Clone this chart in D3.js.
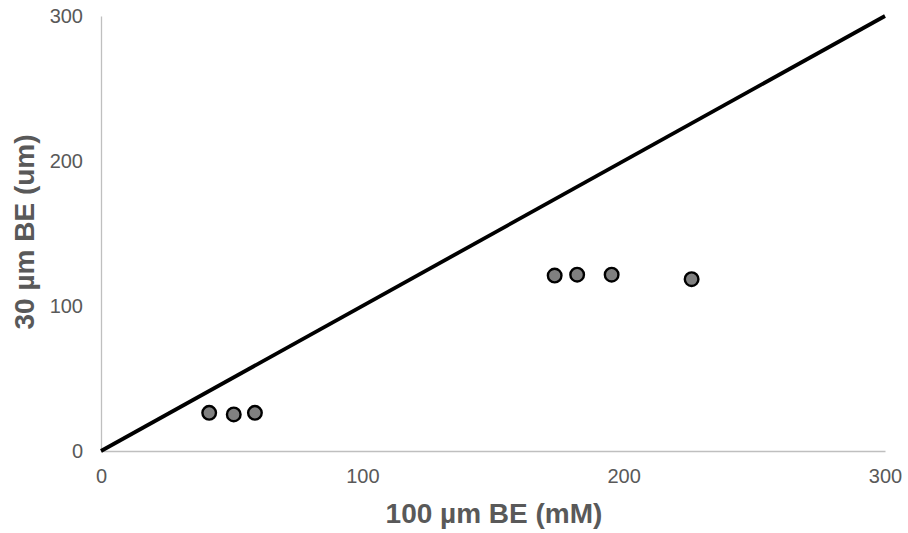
<!DOCTYPE html>
<html>
<head>
<meta charset="utf-8">
<script src="https://cdn.jsdelivr.net/npm/d3@7"></script>
<style>
  body { margin: 0; background: #fff; }
  text { font-family: "Liberation Sans", Arial, sans-serif; fill: #595959; }
</style>
</head>
<body>
<script>
// data
var xValues = [41.4, 50.8, 58.9, 173.6, 182.2, 195.4, 226];
var yValues = [26.3, 25.2, 26.3, 121, 121.6, 121.6, 118.5];
var xTicks = [0, 100, 200, 300];
var yTicks = [0, 100, 200, 300];
var identityLine = [0, 300];

var width = 908, height = 533;
var margin = {top: 16, bottom: 81, left: 101, right: 23};

var svg = d3.select("body").append("svg")
    .attr("width", width)
    .attr("height", height);

var xScale = d3.scaleLinear()
    .domain([0, 300])
    .range([margin.left, width - margin.right]);

var yScale = d3.scaleLinear()
    .domain([0, 300])
    .range([height - margin.bottom - 1, margin.top]);

// x axis
var xAxis = svg.append("g")
    .attr("transform", "translate(0," + yScale(0) + ")")
    .call(d3.axisBottom(xScale).tickValues(xTicks).tickSize(0).tickPadding(18));
xAxis.select(".domain").attr("stroke", "#bfbfbf").attr("stroke-width", 1.3);
xAxis.selectAll("text").style("font-size", "20px").attr("fill", "#6b6b6b");

// y axis
var yAxis = svg.append("g")
    .attr("transform", "translate(" + xScale(0) + ",0)")
    .call(d3.axisLeft(yScale).tickValues(yTicks).tickSize(0).tickPadding(18));
yAxis.select(".domain").attr("stroke", "#bfbfbf").attr("stroke-width", 1.3);
yAxis.selectAll("text").style("font-size", "20px").attr("fill", "#6b6b6b");

// 1:1 line
svg.append("line")
    .attr("x1", xScale(identityLine[0]))
    .attr("y1", yScale(identityLine[0]))
    .attr("x2", xScale(identityLine[1]))
    .attr("y2", yScale(identityLine[1]))
    .attr("stroke", "#000")
    .attr("stroke-width", 3.8);

// points
svg.selectAll(".pt")
    .data(xValues)
    .enter()
    .append("circle")
    .attr("class", "pt")
    .attr("cx", function(d){ return xScale(d); })
    .attr("cy", function(d, i){ return yScale(yValues[i]); })
    .attr("r", 6.8)
    .attr("fill", "#808080")
    .attr("stroke", "#000")
    .attr("stroke-width", 2.4);

// axis titles
svg.append("text")
    .attr("x", 494)
    .attr("y", 523)
    .attr("text-anchor", "middle")
    .style("font-size", "28px")
    .style("font-weight", "bold")
    .text("100 µm BE (mM)");

svg.append("text")
    .attr("transform", "translate(34,232) rotate(-90)")
    .attr("text-anchor", "middle")
    .style("font-size", "28px")
    .style("font-weight", "bold")
    .text("30 µm BE (um)");
</script>
</body>
</html>
